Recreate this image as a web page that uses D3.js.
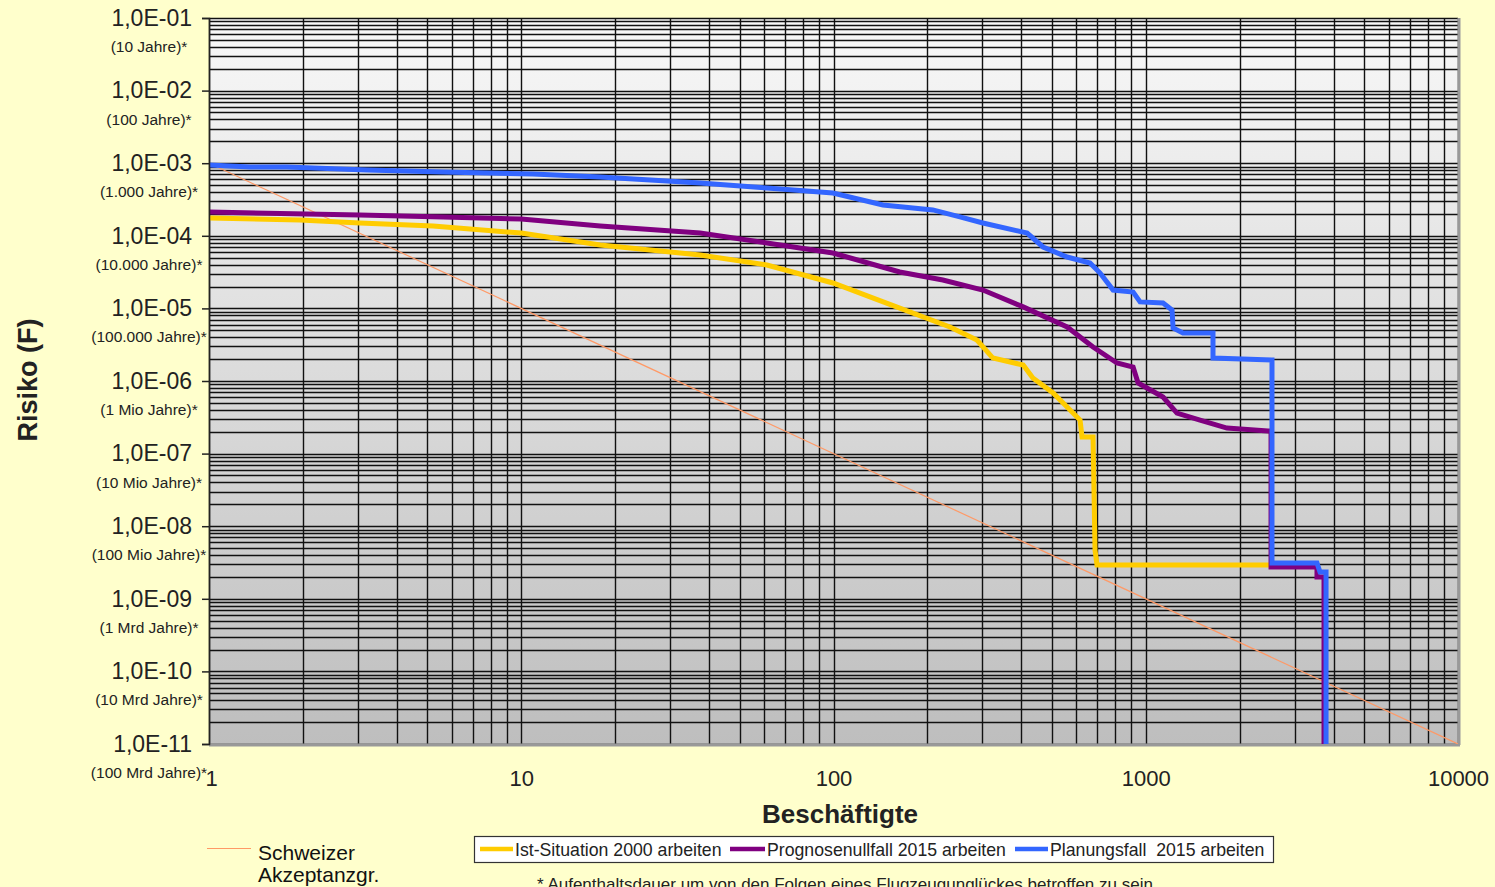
<!DOCTYPE html>
<html>
<head>
<meta charset="utf-8">
<script src="https://cdn.jsdelivr.net/npm/d3@7"></script>
<style>
  html, body { margin: 0; padding: 0; background: #ffffcc; }
  svg { display: block; font-family: "Liberation Sans", Arial, sans-serif; }
</style>
</head>
<body>
<svg id="chart" width="1495" height="887"></svg>
<script>
// ---- Data ----
const yTickValues = [1e-1, 1e-2, 1e-3, 1e-4, 1e-5, 1e-6, 1e-7, 1e-8, 1e-9, 1e-10, 1e-11];
const yTickLabels = ["1,0E-01","1,0E-02","1,0E-03","1,0E-04","1,0E-05","1,0E-06","1,0E-07","1,0E-08","1,0E-09","1,0E-10","1,0E-11"];
const ySubLabels = ["(10 Jahre)*","(100 Jahre)*","(1.000 Jahre)*","(10.000 Jahre)*","(100.000 Jahre)*","(1 Mio Jahre)*","(10 Mio Jahre)*","(100 Mio Jahre)*","(1 Mrd Jahre)*","(10 Mrd Jahre)*","(100 Mrd Jahre)*"];
const xTickValues = [1, 10, 100, 1000, 10000];
const xTickLabels = ["1", "10", "100", "1000", "10000"];

const seriesNames = ["Ist-Situation 2000 arbeiten", "Prognosenullfall 2015 arbeiten", "Planungsfall  2015 arbeiten"];

// Ist-Situation 2000
const istN = [1, 1.956, 3.04, 5.22, 10, 17.9, 37.4, 61.2, 99.6, 163, 236, 288, 324, 405, 435, 505, 560, 616, 625, 678, 688, 698, 2500];
const istF = [1.76e-4, 1.65e-4, 1.50e-4, 1.36e-4, 1.09e-4, 7.47e-5, 5.44e-5, 3.96e-5, 2.24e-5, 1.01e-5, 5.54e-6, 3.67e-6, 2.07e-6, 1.66e-6, 1.10e-6, 6.83e-7, 4.38e-7, 2.90e-7, 1.69e-7, 1.69e-7, 4.70e-9, 2.92e-9, 2.92e-9];

// Prognosenullfall 2015
const progN = [1, 3.04, 5.62, 10, 17.9, 37.4, 61.2, 99.6, 163, 224, 301, 405, 560, 678, 809, 911, 945, 1136, 1259, 1492, 1820, 2464, 2519, 2519, 3535, 3535, 3723, 3723];
const progF = [2.13e-4, 1.93e-4, 1.82e-4, 1.70e-4, 1.36e-4, 1.09e-4, 7.96e-5, 5.80e-5, 3.17e-5, 2.46e-5, 1.79e-5, 1.05e-5, 5.54e-6, 2.94e-6, 1.77e-6, 1.56e-6, 9.39e-7, 6.02e-7, 3.62e-7, 2.90e-7, 2.25e-7, 2.05e-7, 2.05e-7, 2.74e-9, 2.74e-9, 2.00e-9, 2.00e-9, 1e-11];

// Planungsfall 2015
const planN = [1, 1.353, 1.777, 3.21, 5.62, 10.9, 17.9, 29.3, 37.4, 61.2, 99.6, 144, 208, 254, 301, 417, 469, 560, 663, 714, 786, 911, 959, 1136, 1214, 1223, 1316, 1642, 1642, 2537, 2537, 3535, 3614, 3779, 3779];
const planF = [9.44e-4, 8.86e-4, 8.86e-4, 8.06e-4, 7.56e-4, 7.10e-4, 6.45e-4, 5.69e-4, 5.34e-4, 4.55e-4, 3.89e-4, 2.66e-4, 2.27e-4, 1.82e-4, 1.50e-4, 1.09e-4, 7.01e-5, 5.10e-5, 4.22e-5, 3.07e-5, 1.79e-5, 1.68e-5, 1.23e-5, 1.19e-5, 9.51e-6, 5.37e-6, 4.58e-6, 4.58e-6, 2.07e-6, 1.95e-6, 3.11e-9, 3.11e-9, 2.34e-9, 2.34e-9, 1e-11];

// Schweizer Akzeptanzgrenze
const swissN = [1, 10000];
const swissF = [1e-3, 1e-11];

const colors = ["#ffcc00", "#800080", "#3366ff"];
const swissColor = "#ff9966";

// ---- Layout ----
const svg = d3.select("#chart");
const L = 209, R = 1458, T = 18, B = 744;
const x = d3.scaleLog().domain([1, 10000]).range([L, R]);
const y = d3.scaleLog().domain([1e-11, 1e-1]).range([B, T]);

const defs = svg.append("defs");
const grad = defs.append("linearGradient").attr("id", "bg").attr("x1", 0).attr("y1", 0).attr("x2", 0).attr("y2", 1);
grad.append("stop").attr("offset", "0%").attr("stop-color", "#f8f8f8");
grad.append("stop").attr("offset", "100%").attr("stop-color", "#bebebe");
defs.append("clipPath").attr("id", "clip").append("rect")
  .attr("x", L).attr("y", T).attr("width", R - L).attr("height", B - T);

svg.append("rect").attr("x", L).attr("y", T).attr("width", R - L).attr("height", B - T).attr("fill", "url(#bg)");

// grid values
const yGrid = [];
for (let d = -11; d < -1; d++) for (let k = 1; k <= 9; k++) yGrid.push(k * Math.pow(10, d));
yGrid.push(1e-1);
const xGrid = [];
for (let d = 0; d < 4; d++) for (let k = 1; k <= 9; k++) xGrid.push(k * Math.pow(10, d));
xGrid.push(10000);

const grid = svg.append("g");
grid.selectAll("line.h").data(yGrid).join("line")
  .attr("x1", L).attr("x2", R)
  .attr("y1", d => Math.round(y(d)) + 0.5).attr("y2", d => Math.round(y(d)) + 0.5)
  .attr("stroke", "#111").attr("stroke-width", 1.4);
grid.selectAll("line.v").data(xGrid).join("line")
  .attr("y1", T).attr("y2", B)
  .attr("x1", d => Math.round(x(d)) + 0.5).attr("x2", d => Math.round(x(d)) + 0.5)
  .attr("stroke", "#111").attr("stroke-width", 1.4);

// plot border (right / bottom gray)
svg.append("line").attr("x1", R + 1).attr("x2", R + 1).attr("y1", T).attr("y2", B + 1).attr("stroke", "#999").attr("stroke-width", 3);
svg.append("line").attr("x1", L).attr("x2", R + 2).attr("y1", B + 1).attr("y2", B + 1).attr("stroke", "#999").attr("stroke-width", 3);

// curves
const line = d3.line().x(d => x(d[0])).y(d => y(d[1]));
const plot = svg.append("g").attr("clip-path", "url(#clip)");
plot.append("path").datum(d3.zip(swissN, swissF)).attr("d", line)
  .attr("fill", "none").attr("stroke", swissColor).attr("stroke-width", 1.2);
const allSeries = [d3.zip(istN, istF), d3.zip(progN, progF), d3.zip(planN, planF)];
allSeries.forEach((s, i) => {
  plot.append("path").datum(s).attr("d", line)
    .attr("fill", "none").attr("stroke", colors[i]).attr("stroke-width", 5)
    .attr("stroke-linejoin", "miter");
});

// y axis
const yAxis = d3.axisLeft(y).tickValues(yTickValues)
  .tickFormat((d, i) => yTickLabels[i]).tickSize(7).tickPadding(10);
const gy = svg.append("g").attr("transform", `translate(${L},0)`).call(yAxis);
gy.select(".domain").attr("stroke", "#222").attr("stroke-width", 1.5);
gy.selectAll(".tick line").attr("stroke", "#222").attr("stroke-width", 1.5);
gy.selectAll(".tick text").attr("font-size", 23).attr("fill", "#222")
  .attr("font-family", "Liberation Sans, Arial, sans-serif");

svg.append("g").selectAll("text").data(yTickValues).join("text")
  .attr("x", 149).attr("y", d => y(d) + 34)
  .attr("text-anchor", "middle").attr("font-size", 15.5).attr("fill", "#222")
  .text((d, i) => ySubLabels[i]);

// x axis
const xAxis = d3.axisBottom(x).tickValues(xTickValues)
  .tickFormat((d, i) => xTickLabels[i]).tickSize(0).tickPadding(26);
const gx = svg.append("g").attr("transform", `translate(0,${B})`).call(xAxis);
gx.select(".domain").remove();
gx.selectAll(".tick text").attr("font-size", 22).attr("fill", "#222")
  .attr("font-family", "Liberation Sans, Arial, sans-serif");
gx.selectAll(".tick").filter(d => d === 1).select("text").attr("dx", 2);

// axis titles
svg.append("text").attr("x", 840).attr("y", 823).attr("text-anchor", "middle")
  .attr("font-size", 26).attr("font-weight", "bold").attr("fill", "#222").text("Beschäftigte");
svg.append("text").attr("transform", "translate(37,380) rotate(-90)").attr("text-anchor", "middle")
  .attr("font-size", 27).attr("font-weight", "bold").attr("fill", "#222").text("Risiko (F)");

// swiss legend
svg.append("line").attr("x1", 207).attr("x2", 251).attr("y1", 848.5).attr("y2", 848.5)
  .attr("stroke", swissColor).attr("stroke-width", 1.2);
svg.append("text").attr("x", 258).attr("y", 860).attr("font-size", 21).attr("fill", "#111").text("Schweizer");
svg.append("text").attr("x", 258).attr("y", 882).attr("font-size", 21).attr("fill", "#111").text("Akzeptanzgr.");

// series legend
svg.append("rect").attr("x", 474.5).attr("y", 836.5).attr("width", 799).attr("height", 26)
  .attr("fill", "#fff").attr("stroke", "#333").attr("stroke-width", 1.2);
const legX = [[480, 513, 515], [730, 765, 767], [1015, 1048, 1050]];
seriesNames.forEach((name, i) => {
  svg.append("line").attr("x1", legX[i][0]).attr("x2", legX[i][1]).attr("y1", 849).attr("y2", 849)
    .attr("stroke", colors[i]).attr("stroke-width", 4.5);
  svg.append("text").attr("x", legX[i][2]).attr("y", 855.5).attr("font-size", 17.7)
    .attr("fill", "#222").style("white-space", "pre").text(name);
});

// footnote
svg.append("text").attr("x", 537).attr("y", 890).attr("font-size", 17).attr("fill", "#222")
  .text("* Aufenthaltsdauer um von den Folgen eines Flugzeugunglückes betroffen zu sein");
</script>
</body>
</html>
